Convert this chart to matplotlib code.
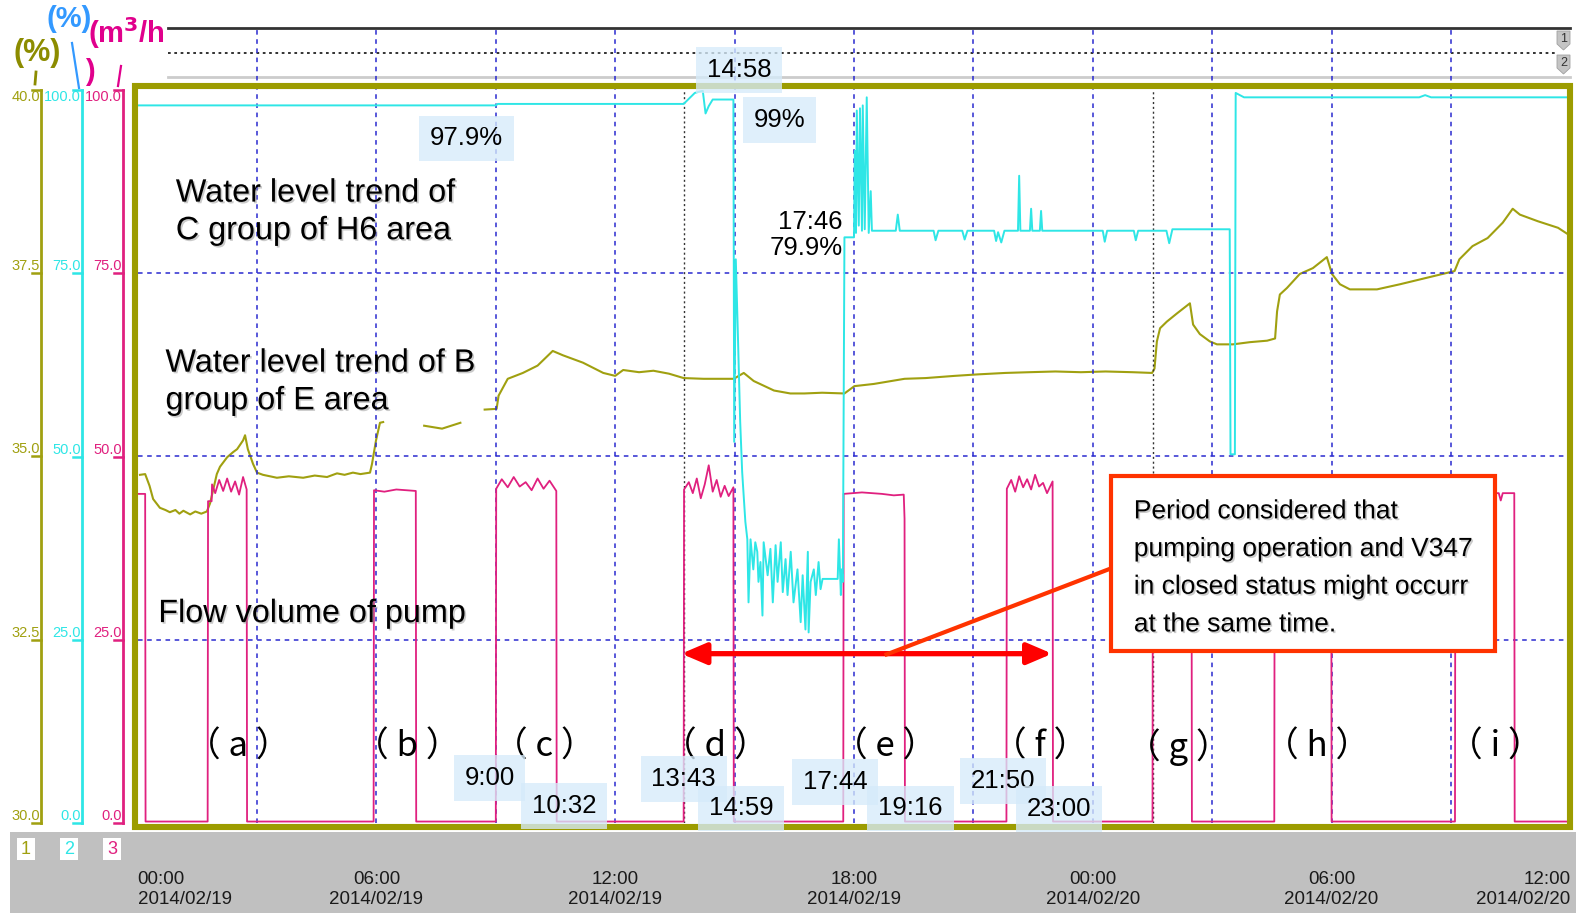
import numpy as np
import matplotlib
matplotlib.use('Agg')
import matplotlib.pyplot as plt
from matplotlib.patches import Rectangle, Polygon
from matplotlib.transforms import blended_transform_factory
import matplotlib.patheffects as pe

# ---------------- data ----------------
tick_hours = [0, 6, 12, 18, 24, 30, 36]
tick_labels = ['00:00\n2014/02/19', '06:00\n2014/02/19', '12:00\n2014/02/19',
               '18:00\n2014/02/19', '00:00\n2014/02/20', '06:00\n2014/02/20',
               '12:00\n2014/02/20']
grid_hours = [3, 6, 9, 12, 15, 18, 21, 24, 27, 30, 33]
mark_hours = [13.72, 25.51]
grid_pct = [25, 50, 75]

pct_levels = [100, 75, 50, 25, 0]
pct_scale = ['100.0', '75.0', '50.0', '25.0', '0.0']
olive_levels = [40, 37.5, 35, 32.5, 30]
olive_scale = ['40.0', '37.5', '35.0', '32.5', '30.0']

# water level, C group of H6 area (%), hours from 2014/02/19 00:00
cyan_pts = [
    (0.0, 97.9), (9.0, 97.9), (9.05, 98.1), (13.72, 98.1), (13.85, 98.8), (14.0, 99.6),
    (14.2, 99.9), (14.27, 96.8), (14.35, 97.8), (14.45, 98.7), (14.97, 98.7),
    (14.99, 52.0), (15.03, 76.9), (15.08, 67.1), (15.14, 54.8), (15.19, 47.9), (15.27, 41.1),
    (15.32, 38.7), (15.35, 30.1), (15.40, 38.7), (15.47, 34.6), (15.52, 38.3), (15.57, 37.0),
    (15.60, 32.9), (15.65, 35.6), (15.70, 28.3), (15.73, 38.3), (15.83, 33.8), (15.90, 37.4),
    (15.96, 30.1), (16.03, 37.9), (16.08, 32.9), (16.16, 38.3), (16.21, 31.5), (16.28, 36.0),
    (16.33, 31.1), (16.41, 37.0), (16.48, 30.1), (16.58, 34.6), (16.66, 27.4), (16.71, 33.8),
    (16.78, 26.4), (16.84, 37.0), (16.86, 26.0), (16.91, 32.9), (16.99, 34.6), (17.04, 31.1),
    (17.11, 35.6), (17.16, 31.9), (17.21, 33.3), (17.59, 33.3), (17.62, 38.7), (17.67, 31.1),
    (17.69, 34.6), (17.72, 32.9),
    (17.76, 79.9), (18.0, 79.9), (18.02, 91.7), (18.05, 80.5), (18.07, 97.2), (18.12, 81.5),
    (18.15, 97.5), (18.20, 80.8), (18.22, 97.9), (18.27, 81.0), (18.32, 99.0), (18.37, 80.5),
    (18.42, 86.2), (18.45, 80.8),
    (19.05, 80.8), (19.10, 83.0), (19.15, 80.8), (20.0, 80.8), (20.05, 79.5), (20.12, 80.8),
    (20.72, 80.8), (20.78, 79.6), (20.85, 80.8), (21.52, 80.8), (21.57, 79.4), (21.62, 80.6),
    (21.70, 79.2), (21.78, 80.8), (22.12, 80.8), (22.15, 88.3), (22.18, 80.8), (22.42, 80.8),
    (22.45, 83.8), (22.48, 80.8), (22.67, 80.8), (22.70, 83.5), (22.73, 80.8), (24.25, 80.8),
    (24.30, 79.3), (24.36, 80.8), (25.03, 80.8), (25.08, 79.5), (25.14, 80.8), (25.85, 80.8),
    (25.92, 79.1), (26.0, 81.0), (27.44, 81.0), (27.46, 50.3), (27.57, 50.3), (27.59, 99.6),
    (27.8, 99.0), (32.2, 99.0), (32.35, 99.3), (32.5, 99.0), (36.0, 99.0),
]

# water level, B group of E area (%), scale 30-40
olive_pts = [
    (0.06, 34.75), (0.19, 34.76), (0.30, 34.60), (0.39, 34.42), (0.56, 34.30), (0.70, 34.27),
    (0.81, 34.24), (0.95, 34.27), (1.05, 34.22), (1.15, 34.26), (1.32, 34.21), (1.45, 34.25),
    (1.60, 34.22), (1.74, 34.25), (1.82, 34.36), (1.99, 34.76), (2.07, 34.86), (2.25, 34.99),
    (2.40, 35.06), (2.50, 35.10), (2.65, 35.22), (2.70, 35.29), (2.77, 35.10), (2.90, 34.90),
    (3.00, 34.78), (3.15, 34.75), (3.50, 34.71), (3.80, 34.73), (4.16, 34.71), (4.45, 34.74),
    (4.76, 34.72), (5.01, 34.77), (5.20, 34.75), (5.41, 34.78), (5.60, 34.76), (5.84, 34.78),
    (5.89, 34.90), (5.99, 35.22), (6.09, 35.46), (6.17, 35.47), (6.18, np.nan),
    (7.20, 35.42), (7.65, 35.38), (8.11, 35.46), (8.12, np.nan),
    (8.72, 35.64), (9.02, 35.65), (9.07, 35.83), (9.30, 36.06), (9.68, 36.14), (10.05, 36.24),
    (10.43, 36.44), (10.69, 36.38), (11.19, 36.28), (11.70, 36.14), (12.00, 36.10),
    (12.20, 36.18), (12.60, 36.15), (12.96, 36.17), (13.35, 36.13), (13.72, 36.07),
    (14.22, 36.06), (14.98, 36.06), (15.23, 36.14), (15.48, 36.03), (15.99, 35.90),
    (16.40, 35.86), (16.75, 35.86), (17.20, 35.87), (17.76, 35.86), (18.01, 35.96),
    (18.50, 35.99), (19.27, 36.06), (19.80, 36.07), (20.53, 36.10), (21.10, 36.12),
    (21.80, 36.14), (22.40, 36.15), (23.06, 36.16), (23.70, 36.15), (24.32, 36.16),
    (25.00, 36.15), (25.49, 36.14), (25.55, 36.20), (25.61, 36.57), (25.69, 36.75),
    (25.86, 36.84), (26.11, 36.95), (26.44, 37.09), (26.52, 36.80), (26.69, 36.67),
    (26.94, 36.57), (27.12, 36.53), (27.52, 36.53), (27.95, 36.56), (28.38, 36.58),
    (28.58, 36.61), (28.63, 36.98), (28.70, 37.21), (28.88, 37.30), (29.20, 37.49),
    (29.53, 37.57), (29.88, 37.72), (30.01, 37.49), (30.21, 37.35), (30.46, 37.28),
    (31.14, 37.28), (31.72, 37.35), (33.09, 37.53), (33.21, 37.69), (33.54, 37.87),
    (33.92, 37.98), (34.30, 38.19), (34.55, 38.38), (34.73, 38.30), (35.18, 38.21),
    (35.69, 38.12), (36.0, 38.01),
]

# flow volume of pump (m3/h)
pump_h = [0.0, 0.19, 0.20, 1.76, 1.77, 1.86, 1.87, 1.95, 2.05, 2.15, 2.25, 2.35, 2.45, 2.55, 2.65, 2.74, 2.75,
          5.93, 5.94, 6.2, 6.5, 6.99, 7.00,
          9.0, 9.01, 9.15, 9.3, 9.45, 9.6, 9.75, 9.9, 10.05, 10.2, 10.35, 10.52, 10.53,
          13.72, 13.73, 13.85, 13.95, 14.05, 14.15, 14.25, 14.35, 14.45, 14.55, 14.65, 14.75, 14.85, 14.97, 14.98,
          17.73, 17.74, 18.2, 18.7, 19.0, 19.25, 19.27, 19.28,
          21.83, 21.84, 21.95, 22.05, 22.15, 22.25, 22.35, 22.45, 22.55, 22.65, 22.75, 22.85, 22.99, 23.0,
          25.50, 25.51, 26.48, 26.49,
          28.56, 28.57, 29.99, 30.0,
          33.10, 33.11, 34.2, 34.25, 34.3, 34.4, 34.59, 34.6, 36.0]
pump_v = [44.9, 44.9, 0.2, 0.2, 43.9, 43.9, 46.2, 45.0, 46.8, 45.3, 47.0, 45.2, 46.6, 44.8, 47.2, 45.5, 0.2,
          0.2, 45.4, 45.2, 45.5, 45.3, 0.2,
          0.2, 45.6, 46.9, 45.8, 47.2, 45.9, 46.5, 45.4, 47.0, 45.6, 46.7, 45.3, 0.2,
          0.2, 45.5, 46.5, 45.0, 47.0, 44.3, 46.2, 48.8, 45.2, 46.8, 44.5, 46.0, 44.6, 45.8, 0.2,
          0.2, 44.9, 45.1, 44.9, 44.7, 44.8, 41.5, 0.2,
          0.2, 45.6, 46.8, 45.2, 47.3, 45.8, 46.9, 45.5, 47.5, 45.9, 46.4, 45.0, 46.6, 0.2,
          0.2, 45.0, 45.0, 0.2,
          0.2, 45.0, 45.0, 0.2,
          0.2, 45.0, 45.0, 44.0, 45.0, 45.0, 45.0, 0.2, 0.2]

# pump run labels and positions (hour, %)
run_letters = ['a', 'b', 'c', 'd', 'e', 'f', 'g', 'h', 'i']
run_h = [2.53, 6.77, 10.23, 14.52, 18.77, 22.68, 26.14, 29.63, 34.12]
run_y = 10.4

# time notes (text, hour, %)
note_text = ['9:00', '10:32', '13:43', '14:59', '17:44', '19:16', '21:50', '23:00', '14:58', '99%', '97.9%']
note_h = [8.84, 10.71, 13.72, 15.16, 17.53, 19.42, 21.75, 23.16, 15.12, 16.12, 8.26]
note_y = [6.1, 2.3, 6.0, 2.0, 5.6, 2.0, 5.7, 1.9, 102.7, 95.9, 93.4]

cyan_h, cyan_v = zip(*cyan_pts)
olive_h, olive_v = zip(*olive_pts)

SANS = ['Liberation Sans', 'DejaVu Sans']
CJK = ['Noto Sans CJK JP', 'DejaVu Sans']
OLIVE = '#a0a010'
CYAN = '#2ee6e6'
PINK = '#e0207f'
FRAME = '#9c9c00'
GRID = '#2a2ad0'

fig = plt.figure(figsize=(15.76, 9.13), dpi=100)

# background layer in pixel coordinates
bg = fig.add_axes([0, 0, 1, 1])
bg.set_xlim(0, 1576)
bg.set_ylim(913, 0)
bg.axis('off')
bg.set_zorder(0)

# plot area: 0 h at x=137.6 px, 36 h at x=1570.4 px; 0 % at y=823 px, 100 % at y=90 px
ax = fig.add_axes([137.6 / 1576, 90 / 913, 1432.8 / 1576, 733 / 913])
ax2 = ax.twinx()
ax.set_zorder(2)
ax2.set_zorder(1)
ax.patch.set_visible(False)
ax2.patch.set_visible(False)
ax.set_xlim(0, 36)
ax.set_ylim(0, 100)
ax2.set_ylim(30, 40)
ax.axis('off')
ax2.axis('off')

# grid
for h in grid_hours:
    ax.axvline(h, ymin=0, ymax=1.084, color=GRID, lw=1.1, ls=(0, (3, 3)), clip_on=False, zorder=1)
for h in mark_hours:
    ax.axvline(h, color='#333333', lw=1.0, ls=(0, (1.5, 2)), zorder=1)
for v in grid_pct:
    ax.axhline(v, color=GRID, lw=1.1, ls=(0, (3, 3)), zorder=1)

# data
ax2.plot(olive_h, olive_v, color=OLIVE, lw=1.5)
ax.plot(pump_h, pump_v, color=PINK, lw=1.3, zorder=3)
ax.plot(cyan_h, cyan_v, color=CYAN, lw=1.4, zorder=3)

# olive frame
ax.add_patch(Rectangle((135.5, 86.5), 1434.5, 740.5, transform=bg.transData, fill=False,
                       ec=FRAME, lw=4.4, zorder=5, clip_on=False))

# bottom band and top strip
bg.add_patch(Rectangle((10, 832), 1566, 81, fc='#c0c0c0', ec='none'))
for i, (lab, col) in enumerate(zip(['1', '2', '3'], [OLIVE, CYAN, PINK])):
    x0 = 17 + 43 * i
    bg.add_patch(Rectangle((x0, 838), 18, 22, fc='white', ec='none'))
    bg.text(x0 + 9, 849, lab, color=col, fontsize=13, ha='center', va='center', family=SANS)
bg.plot([168, 1570], [28, 28], color='#333333', lw=2)
bg.plot([168, 1558], [53, 53], color='#222222', lw=1.3, ls=(0, (1.5, 2)))
bg.plot([168, 1570], [77, 77], color='#cccccc', lw=2)
for i, lab in enumerate(['1', '2']):
    y0 = 31 + 24 * i
    bg.add_patch(Polygon([(1557, y0), (1570, y0), (1570, y0 + 13), (1563.5, y0 + 19), (1557, y0 + 13)],
                         closed=True, fc='#c4c4c4', ec='#a0a0a0', lw=0.6))
    bg.text(1564, y0 + 8, lab, fontsize=9, ha='center', va='center', color='#333333', family=SANS)

# left scales
tr_pct = blended_transform_factory(bg.transData, ax.transData)
tr_olv = blended_transform_factory(bg.transData, ax2.transData)
scales = [(41, OLIVE, olive_levels, olive_scale, tr_olv),
          (82, CYAN, pct_levels, pct_scale, tr_pct),
          (123, PINK, pct_levels, pct_scale, tr_pct)]
for x, col, vals, labs, tr in scales:
    bg.plot([x, x], [vals[0], vals[-1]], color=col, lw=2, transform=tr, clip_on=False)
    for k, (v, lab) in enumerate(zip(vals, labs)):
        bg.plot([x - 9, x], [v, v], color=col, lw=1.8, transform=tr, clip_on=False)
        bg.text(x - 1, v, lab, color=col, fontsize=10.5, family=SANS, transform=tr,
                ha='right', va='top' if k == 0 else 'bottom')

# unit labels
bg.text(37, 53, '(%)', color='#8c8c00', fontsize=22, fontweight='bold', ha='center', va='center', family=SANS)
bg.text(69, 19, '(%)', color='#3399ff', fontsize=21, fontweight='bold', ha='center', va='center', family=SANS)
bg.text(88, 33, '(m$^\\mathbf{3}$/h', color='#e0008c', fontsize=21, fontweight='bold', ha='left', va='center', family=SANS)
bg.text(85, 72, ')', color='#e0008c', fontsize=21, fontweight='bold', ha='left', va='center', family=SANS)
bg.plot([36, 35], [72, 84], color='#8c8c00', lw=2)
bg.plot([72, 79], [43, 88], color='#3399ff', lw=1.6)
bg.plot([121, 118], [66, 86], color='#e0008c', lw=1.6)

# time axis labels
xtr = ax.get_xaxis_transform()
for k, (h, lab) in enumerate(zip(tick_hours, tick_labels)):
    ha = 'left' if k == 0 else ('right' if k == len(tick_hours) - 1 else 'center')
    ax.text(h, -0.091, lab, transform=xtr, ha=ha, va='center', ma=ha, fontsize=13.5,
            family=SANS, color='#1a1a1a', linespacing=1.2)

# big labels
shadow = [pe.withSimplePatchShadow(offset=(1.2, -1.2), shadow_rgbFace='0.55', alpha=0.45)]
ax.text(0.96, 83.3, 'Water level trend of\nC group of H6 area', fontsize=23.3, family=SANS,
        ha='left', va='center', zorder=6, linespacing=1.33, path_effects=shadow)
ax.text(0.70, 60.1, 'Water level trend of B\ngroup of E area', fontsize=23.3, family=SANS,
        ha='left', va='center', zorder=6, linespacing=1.33, path_effects=shadow)
ax.text(0.52, 28.5, 'Flow volume of pump', fontsize=23.3, family=SANS,
        ha='left', va='center', zorder=6, path_effects=shadow)

# run letters
for lt, h in zip(run_letters, run_h):
    ax.text(h, run_y, '（ ' + lt + ' ）', fontsize=25, family=CJK, ha='center', va='center', zorder=6)

# time notes with light blue boxes
for t, h, v in zip(note_text, note_h, note_y):
    ax.text(h, v, t, fontsize=18.5, family=SANS, ha='center', va='center', zorder=8,
            bbox=dict(boxstyle='square,pad=0.42', fc=(0.84, 0.92, 0.98, 0.78), ec='none'))
ax.text(17.72, 80.2, '17:46\n79.9%', fontsize=18.5, family=SANS, ha='right', va='center',
        ma='right', zorder=8, linespacing=1.08)

# period arrow and callout
ax.annotate('', xy=(22.98, 23.1), xytext=(13.66, 23.1),
            arrowprops=dict(arrowstyle='<|-|>,head_length=0.75,head_width=0.32', color='#ff0000',
                            lw=3.8, shrinkA=0, shrinkB=0, mutation_scale=20), zorder=7)
ax.plot([24.49, 18.77], [34.8, 22.9], color='#ff3300', lw=3, zorder=7, solid_capstyle='butt')
ax.add_patch(Rectangle((24.46, 23.4), 9.65, 23.9, fc='white', ec='#ff3300', lw=3, zorder=7))
ax.text(25.03, 34.8, 'Period considered that\npumping operation and V347\nin closed status might occurr\nat the same time.',
        fontsize=19, family=SANS, ha='left', va='center', linespacing=1.72, zorder=8,
        path_effects=shadow)

fig.savefig('out.png', dpi=100)
